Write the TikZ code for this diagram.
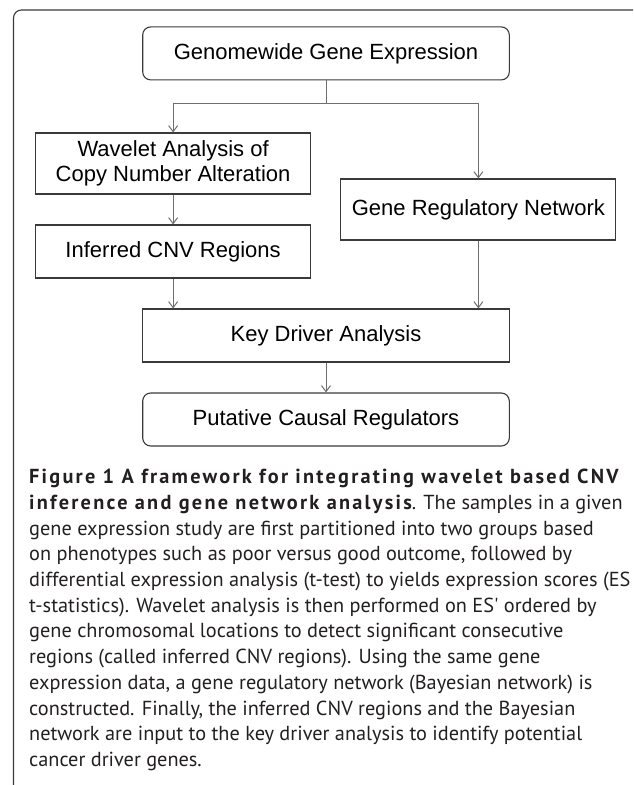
\documentclass[tikz,border=0pt]{standalone}
\usepackage{fontspec}
\setmainfont{Liberation Sans}
\newfontfamily\capfont{PT Sans}
\newfontfamily\capbold[LetterSpace=11]{PT Sans Bold}
\usetikzlibrary{arrows.meta}
\definecolor{boxline}{HTML}{3A3A3A}
\definecolor{wire}{HTML}{6E6E6E}
\definecolor{captext}{HTML}{231F20}
\newcommand{\figlead}[1]{{\capbold #1}}
\tikzset{
  stage/.style={draw=boxline, line width=1.1pt, inner sep=0pt, align=center,
    font=\fontsize{22}{25}\selectfont},
  widebox/.style={stage, minimum width=366.6pt, minimum height=53pt},
  narrowbox/.style={stage, minimum width=275pt},
  wire/.style={draw=wire, line width=1pt},
  >={Straight Barb[length=6pt,width=9pt]}
}
\begin{document}
\begin{tikzpicture}[x=1pt, y=-1pt]
    \useasboundingbox (0,0) rectangle (633,785);
    \draw[boxline, line width=1.1pt, rounded corners=8pt] (13.5,785) -- (13.5,10) -- (633,10);
    \node[widebox, rounded corners=8pt] (gge) at (326,53.4) {Genomewide Gene Expression};
    \node[narrowbox, minimum height=61pt] (wav) at (173.1,163.5) {Wavelet Analysis of\\Copy Number Alteration};
    \node[narrowbox, minimum height=61pt] (grn) at (478.4,209.5) {Gene Regulatory Network};
    \node[narrowbox, minimum height=53pt] (cnv) at (173.1,251.5) {Inferred CNV Regions};
    \node[widebox] (kda) at (326,335.5) {Key Driver Analysis};
    \node[widebox, rounded corners=8pt] (put) at (326,419.5) {Putative Causal Regulators};
    \coordinate (split) at (326,103);
    \draw[wire] (gge) -- (split);
    \draw[wire, ->] (split) -| (wav);
    \draw[wire, ->] (split) -| (grn);
    \draw[wire, ->] (wav) -- (cnv);
    \draw[wire, ->] (cnv) -- (cnv |- kda.north);
    \draw[wire, ->] (grn) -- (grn |- kda.north);
    \draw[wire, ->] (kda) -- (put);
    \node[anchor=north west, inner sep=0pt, align=left, text=captext,
      font=\capfont\fontsize{20.3}{25.7}\selectfont] (caption) at (29,469)
      {\figlead{Figure 1 A framework for integrating wavelet based CNV}\\
       \figlead{inference and gene network analysis}. The samples in a given\\
       gene expression study are first partitioned into two groups based\\
       on phenotypes such as poor versus good outcome, followed by\\
       differential expression analysis (t-test) to yields expression scores (ES\\
       t-statistics). Wavelet analysis is then performed on ES' ordered by\\
       gene chromosomal locations to detect significant consecutive\\
       regions (called inferred CNV regions). Using the same gene\\
       expression data, a gene regulatory network (Bayesian network) is\\
       constructed. Finally, the inferred CNV regions and the Bayesian\\
       network are input to the key driver analysis to identify potential\\
       cancer driver genes.};
\end{tikzpicture}
\end{document}
